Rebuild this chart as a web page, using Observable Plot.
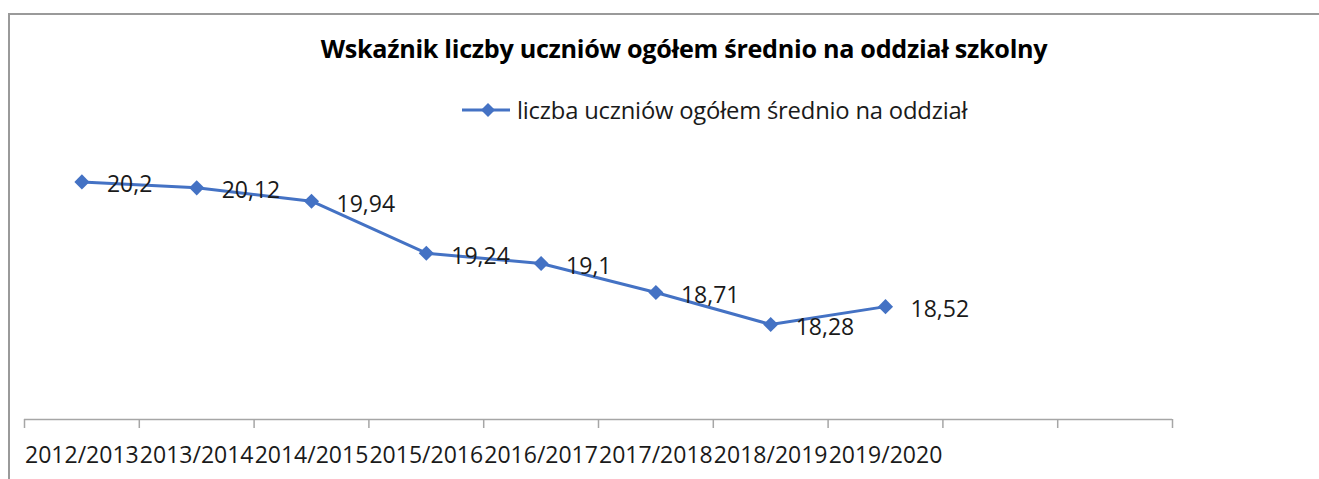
<!DOCTYPE html>
<html>
<head>
<meta charset="utf-8">
<script src="https://cdn.jsdelivr.net/npm/d3@7"></script>
<script src="https://cdn.jsdelivr.net/npm/@observablehq/plot@0.6"></script>
<style>
  html, body { margin: 0; padding: 0; background: #fff; }
  #wrap { position: relative; width: 1319px; height: 479px; overflow: hidden; font-family: "Open Sans", sans-serif; }
  #frame { position: absolute; left: 8px; top: 13px; width: 1400px; height: 600px; border-left: 2px solid #9a9a9a; border-top: 2px solid #9a9a9a; }
  #title { position: absolute; left: 684px; top: 33px; transform: translateX(-50%); white-space: nowrap; font-weight: bold; font-size: 25.2px; line-height: 30px; color: #000; letter-spacing: -0.3px; }
  #legend { position: absolute; left: 462px; top: 95px; height: 30px; display: flex; align-items: center; white-space: nowrap; font-size: 23.8px; color: #1a1a1a; letter-spacing: -0.2px; }
  #legend svg { margin-right: 7px; }
  #chart { position: absolute; left: 0; top: 120px; }
</style>
</head>
<body>
<div id="wrap">
  <div id="frame"></div>
  <div id="title">Wskaźnik liczby uczniów ogółem średnio na oddział szkolny</div>
  <div id="legend"></div>
  <div id="chart"></div>
</div>
<script>
const categories = ["2012/2013", "2013/2014", "2014/2015", "2015/2016", "2016/2017", "2017/2018", "2018/2019", "2019/2020"];
const values = [20.2, 20.12, 19.94, 19.24, 19.1, 18.71, 18.28, 18.52];
const valueLabels = ["20,2", "20,12", "19,94", "19,24", "19,1", "18,71", "18,28", "18,52"];
const seriesName = "liczba uczniów ogółem średnio na oddział";
const slotCount = 10; // category slots on the axis (8 used, 2 empty)

const blue = "#4472C4";
const data = categories.map((c, i) => ({cat: c, idx: i + 0.5, v: values[i], label: valueLabels[i]}));

// legend
const leg = document.getElementById("legend");
leg.innerHTML = `<svg width="48" height="20"><line x1="0" y1="10" x2="48" y2="10" stroke="${blue}" stroke-width="3"/><path d="M26,3 L33,10 L26,17 L19,10 Z" fill="${blue}"/></svg><span>${seriesName}</span>`;

const chart = Plot.plot({
  width: 1319,
  height: 359,
  marginLeft: 24,
  marginRight: 147,
  marginTop: 2,
  marginBottom: 60,
  style: {fontFamily: "Open Sans, sans-serif", background: "transparent"},
  x: {type: "linear", domain: [0, slotCount], axis: null},
  y: {domain: [17, 21], axis: null},
  marks: [
    Plot.ruleY([17], {x1: 0, x2: slotCount, stroke: "#a6a6a6", strokeWidth: 1.5}),
    Plot.axisX({ticks: d3.range(slotCount + 1), tickSize: 9, tickFormat: () => "", label: null, stroke: "#a6a6a6", strokeWidth: 1.5, strokeOpacity: 1}),
    Plot.axisX({ticks: data.map(d => d.idx), tickSize: 0, tickPadding: 27, tickFormat: (t) => categories[Math.floor(t)], label: null, fontSize: 23, fill: "#1a1a1a"}),
    Plot.line(data, {x: "idx", y: "v", stroke: blue, strokeWidth: 3}),
    Plot.dot(data, {x: "idx", y: "v", symbol: "diamond2", r: 6.8, fill: blue, stroke: "none"}),
    Plot.text(data, {x: "idx", y: "v", text: "label", dx: 25, dy: 3, textAnchor: "start", fontSize: 23, fill: "#1a1a1a"})
  ]
});
document.getElementById("chart").appendChild(chart);
</script>
</body>
</html>
